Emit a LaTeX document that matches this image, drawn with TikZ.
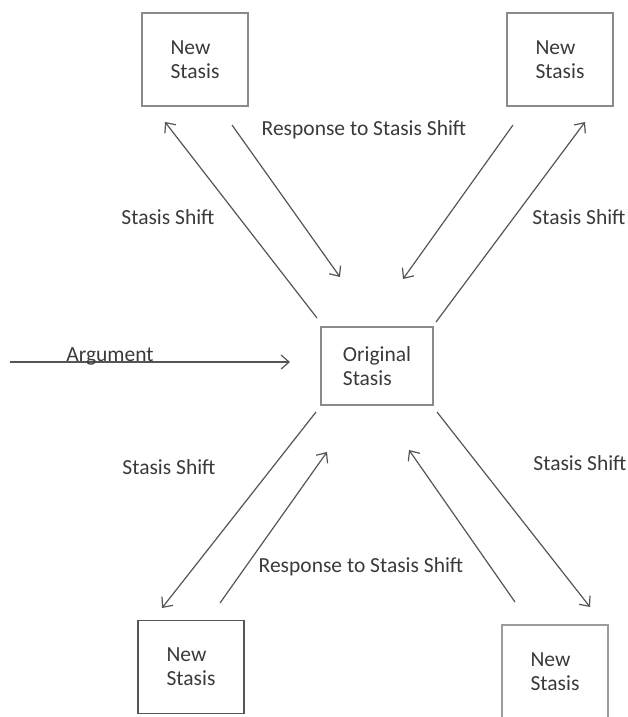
\documentclass[tikz,border=0pt]{standalone}
\usepackage{fontspec}
\setmainfont{Carlito}
\usetikzlibrary{arrows.meta}

\definecolor{inkgray}{HTML}{3A3A3A}
\definecolor{linegray}{HTML}{555555}
\definecolor{boxgray}{HTML}{8A8A8A}

\tikzset{
  stasisbox/.style={draw=boxgray, line width=1.5pt, minimum width=106pt, minimum height=93pt,
    align=left, text=inkgray, font=\fontsize{21.5}{24}\selectfont},
  shiftarrow/.style={draw=linegray, line width=1.2pt, -{Straight Barb[length=8pt,width=14pt]}},
  lbl/.style={text=inkgray, font=\fontsize{21.5}{24}\selectfont}
}

\begin{document}
\begin{tikzpicture}[x=1pt, y=-1pt]
    \clip (0,0) rectangle (628,717);

    % boxes
    \node[stasisbox] (newtl) at (195,59.5) {New\\Stasis};
    \node[stasisbox] (newtr) at (560,59.5) {New\\Stasis};
    \node[stasisbox, minimum width=112pt, minimum height=78pt, xshift=-6pt] (orig) at (383,366) {Original\\Stasis};
    \node[stasisbox, draw=linegray] (newbl) at (191,667) {New\\Stasis};
    \node[stasisbox, draw=boxgray!85] (newbr) at (555,671.5) {New\\Stasis};

    % arrow ends
    \coordinate (tlout) at (317,318);  \coordinate (tlin) at (165,122);
    \coordinate (tlback) at (232,125); \coordinate (tlret) at (340,277);
    \coordinate (trback) at (513,125); \coordinate (trret) at (403,279);
    \coordinate (trout) at (436,322);  \coordinate (trin) at (585,122);
    \coordinate (argstart) at (10,362); \coordinate (argend) at (290,362);
    \coordinate (blout) at (316,412);  \coordinate (blin) at (162,608);
    \coordinate (blback) at (220,603); \coordinate (blret) at (327,452);
    \coordinate (brback) at (515,602); \coordinate (brret) at (409,450);
    \coordinate (brout) at (437,412);  \coordinate (brin) at (590,607);

    \draw[shiftarrow] (tlout) -- (tlin);
    \draw[shiftarrow] (tlback) -- (tlret);
    \draw[shiftarrow] (trback) -- (trret);
    \draw[shiftarrow] (trout) -- (trin);
    \draw[shiftarrow] (argstart) -- (argend);
    \draw[shiftarrow] (blout) -- (blin);
    \draw[shiftarrow] (blback) -- (blret);
    \draw[shiftarrow] (brback) -- (brret);
    \draw[shiftarrow] (brout) -- (brin);

    % labels
    \node[lbl] (lshifttl) at (168,217) {Stasis Shift};
    \node[lbl] (lresptop) at (364,130) {Response to Stasis Shift};
    \node[lbl] (lshifttr) at (579,217) {Stasis Shift};
    \node[lbl] (larg) at (110,356) {Argument};
    \node[lbl] (lshiftbl) at (169,467) {Stasis Shift};
    \node[lbl] (lrespbot) at (361,567) {Response to Stasis Shift};
    \node[lbl] (lshiftbr) at (580,463) {Stasis Shift};
\end{tikzpicture}
\end{document}
